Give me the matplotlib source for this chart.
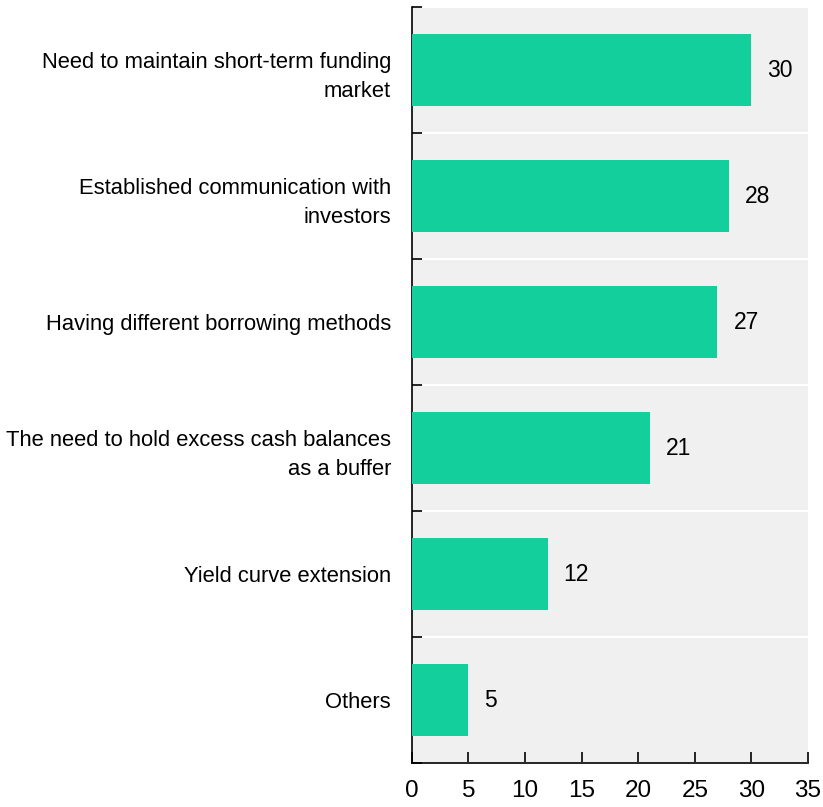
import matplotlib
matplotlib.use("Agg")
import matplotlib.pyplot as plt
import numpy as np
from matplotlib import font_manager

categories = [
    "Need to maintain short-term funding\nmarket",
    "Established communication with\ninvestors",
    "Having different borrowing methods",
    "The need to hold excess cash balances\nas a buffer",
    "Yield curve extension",
    "Others",
]
values = [30, 28, 27, 21, 12, 5]
x_ticks = [0, 5, 10, 15, 20, 25, 30, 35]

names = {f.name for f in font_manager.fontManager.ttflist}
family = "Liberation Sans Narrow" if "Liberation Sans Narrow" in names else "Liberation Sans"
plt.rcParams["font.family"] = [family, "DejaVu Sans"]

bar_color = "#13cf9c"
bg_color = "#f0f0f0"

fig = plt.figure(figsize=(8.23, 8.07), dpi=100)
ax = fig.add_axes([0.5003, 0.0545, 0.4815, 0.9368])
ax.set_facecolor(bg_color)

n = len(categories)
ypos = np.arange(n)
ax.barh(ypos, values, height=0.57, color=bar_color, zorder=3)

ax.set_ylim(n - 0.5, -0.5)
ax.set_xlim(0, 35)

ax.set_yticks(ypos)
ax.set_yticklabels(categories, fontsize=15.8, ha="right", multialignment="right",
                   linespacing=1.55)
ax.tick_params(axis="y", which="major", length=0, pad=15)
ax.set_yticks(np.arange(-0.5, n, 1.0), minor=True)
ax.tick_params(axis="y", which="minor", direction="in", length=7, width=1.2, color="black")

ax.set_xticks(x_ticks)
ax.set_xticklabels([str(t) for t in x_ticks], fontsize=17.5)
ax.tick_params(axis="x", direction="in", length=8, width=1.2, pad=12)

ax.grid(axis="y", which="minor", color="white", linewidth=1.5, zorder=1)
ax.grid(axis="y", which="major", visible=False)
ax.grid(axis="x", visible=False)

for side in ("top", "right"):
    ax.spines[side].set_visible(False)
for side in ("left", "bottom"):
    ax.spines[side].set_color("black")
    ax.spines[side].set_linewidth(1.2)

for y, v in zip(ypos, values):
    ax.annotate(str(v), xy=(v, y), xytext=(16, 0), textcoords="offset pixels",
                ha="left", va="center", fontsize=16.5, color="black")

fig.savefig("out.png", dpi=100, facecolor="white")
